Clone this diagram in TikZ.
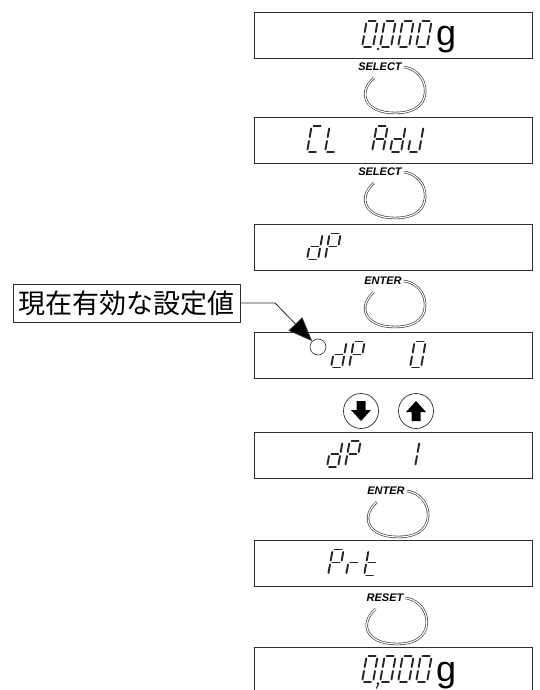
\documentclass[tikz,border=0pt]{standalone}
\usepackage{fontspec}
\usetikzlibrary{arrows.meta, calc}
\newfontfamily\keyfont{Liberation Sans}
\newfontfamily\jpfont{Noto Sans CJK JP}
\definecolor{rimgray}{RGB}{45,45,45}

% segmentos del visor (a arriba, b/c derecha, d abajo, e/f izquierda, g medio)
\newcommand\segparta{\draw[segline] (2,-26) -- (9,-26);}
\newcommand\segpartb{\draw[segline] (11,-23.5) -- (11,-15);}
\newcommand\segpartc{\draw[segline] (11,-11) -- (11,-2.5);}
\newcommand\segpartd{\draw[segline] (2,0) -- (9,0);}
\newcommand\segparte{\draw[segline] (0,-2.5) -- (0,-11);}
\newcommand\segpartf{\draw[segline] (0,-15) -- (0,-23.5);}
\newcommand\segpartg{\draw[segline] (2,-13) -- (9,-13);}
\newcommand\segchar[3]{%
    \begin{scope}[shift={(#1,#2)}, xslant=0.18]
        \foreach \s in {#3} {\csname segpart\s\endcsname}
    \end{scope}}

\tikzset{
    knob/.pic={
        \draw[ring] (-29,11) .. controls (-46,26) and (-38,46) .. (-8,46)
            .. controls (16,46) and (24,34) .. (22,20)
            .. controls (20,8) and (10,1) .. (1,0);
    }
}

\begin{document}
\begin{tikzpicture}[x=1pt, y=-1pt,
    disp/.style={draw=rimgray, line width=0.8pt, rectangle, inner sep=0,
        minimum width=278pt, minimum height=46pt},
    segline/.style={line width=1.9pt, line cap=round, black!85},
    ring/.style={double, double distance=1.2pt, line width=0.6pt, rimgray},
    keylabel/.style={inner sep=0,
        font=\keyfont\bfseries\itshape\fontsize{11}{11}\selectfont},
    unitg/.style={inner sep=0, anchor=base west,
        font=\keyfont\fontsize{36}{36}\selectfont},
    arrowkey/.style={draw=rimgray, line width=0.7pt, circle, minimum size=35pt, inner sep=0}]

    \useasboundingbox (0,0) rectangle (539,690);

    % ==========================================================
    % visores
    % ==========================================================
    \foreach \k/\cy in {1/35, 2/140, 3/247.5, 4/355.5, 5/455, 6/563.5, 7/670} {
        \node[disp] (disp\k) at (393,\cy) {};
    }

    % 0.000g
    \foreach \x in {362, 380, 398, 416} {\segchar{\x}{47}{a,b,c,d,e,f}}
    \fill[black!85] (378,49) circle (1.4pt);
    \node[unitg] (unit1) at (436,46) {g};

    % CL AdJ
    \segchar{307}{152}{a,d,e,f}
    \segchar{325}{152}{d,e,f}
    \segchar{372}{152}{a,b,c,e,f,g}
    \segchar{390}{152}{b,c,d,e,g}
    \segchar{408}{152}{b,c,d,e}

    % dP
    \segchar{307}{259.5}{b,c,d,e,g}
    \segchar{325}{259.5}{a,b,e,f,g}

    % dP 0 con la marca del valor vigente
    \node[draw=rimgray, line width=0.6pt, circle, minimum size=16pt, inner sep=0] (curdot) at (318,347) {};
    \segchar{331}{367.5}{b,c,d,e,g}
    \segchar{349}{367.5}{a,b,e,f,g}
    \segchar{410}{367.5}{a,b,c,d,e,f}

    % dP 1
    \segchar{327}{467}{b,c,d,e,g}
    \segchar{345}{467}{a,b,e,f,g}
    \segchar{404}{467}{b,c}

    % Prt
    \segchar{328}{575.5}{a,b,e,f,g}
    \segchar{346}{575.5}{e,g}
    \segchar{364}{575.5}{d,e,f,g}

    % 0,000g
    \foreach \x in {362, 380, 398, 416} {\segchar{\x}{682}{a,b,c,d,e,f}}
    \fill[black!85] (378,683.5) circle (1.4pt);
    \draw[black!85, line width=1.1pt] (378.6,684) -- (376.2,688.5);
    \node[unitg] (unit7) at (436,681) {g};

    % ==========================================================
    % teclas
    % ==========================================================
    \foreach \k/\lx/\ly/\txt in {1/380/67/SELECT, 2/380/172/SELECT, 3/383/281/ENTER,
                                 4/386/491/ENTER, 5/385/598/RESET} {
        \node[keylabel] (key\k) at (\lx,\ly) {\txt};
        \pic at ($(key\k.east)+(1,0)$) {knob};
    }

    \node[arrowkey] (keydown) at (361,411) {};
    \node[arrowkey] (keyup) at (416,411) {};
    \fill[shift={(keydown.center)}] (-4.5,-10) -- (4.5,-10) -- (4.5,-1) -- (10,-1)
        -- (0,10) -- (-10,-1) -- (-4.5,-1) -- cycle;
    \fill[shift={(keyup.center)}] (-4.5,10) -- (4.5,10) -- (4.5,1) -- (10,1)
        -- (0,-10) -- (-10,1) -- (-4.5,1) -- cycle;

    % ==========================================================
    % nota
    % ==========================================================
    \node[draw=rimgray, line width=0.7pt, minimum width=227pt, minimum height=38pt,
          inner sep=0, font=\jpfont\fontsize{27}{30}\selectfont] (note) at (126.5,303) {現在有効な設定値};
    \coordinate (bend) at (275,303);
    \draw[rimgray, line width=0.8pt, -{Triangle[length=24pt, width=19pt, fill=black]}]
        (note.east) -- (bend) -- (curdot.north west);

\end{tikzpicture}
\end{document}
